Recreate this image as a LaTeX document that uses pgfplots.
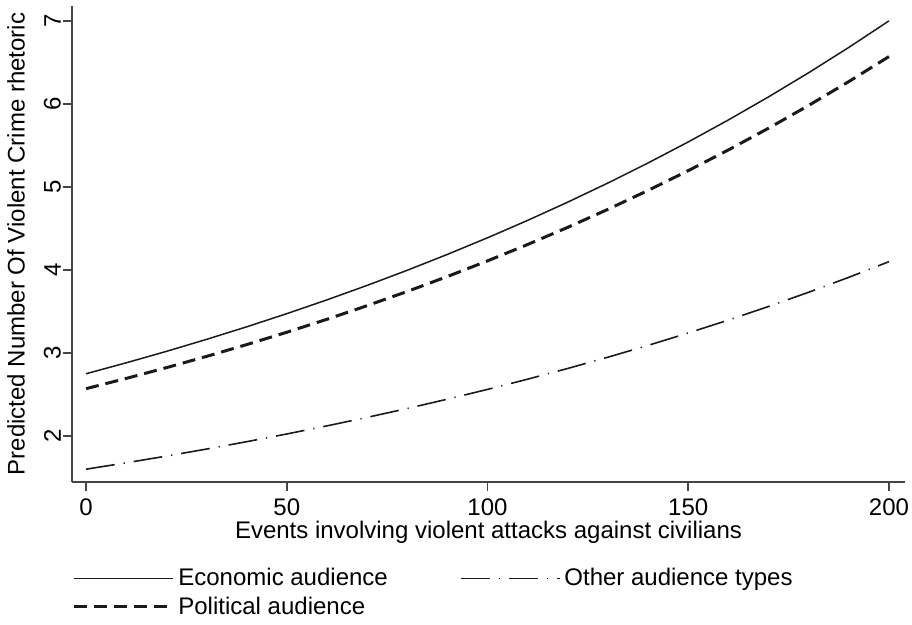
\documentclass[border=0pt]{standalone}
\usepackage{fontspec}
\setmainfont{Liberation Sans}
\usepackage{pgfplots}
\pgfplotsset{compat=1.18}
\definecolor{ink}{HTML}{1A1A1A}
\definecolor{axisgray}{HTML}{444444}
\begin{document}
\begin{tikzpicture}
\path[use as bounding box] (-36pt,-71.5pt) rectangle (420pt,241pt);
\begin{axis}[
  anchor=south west, at={(0,0)},
  scale only axis, width=416.5pt, height=238pt,
  xmin=-3.5, xmax=204, ymin=1.446, ymax=7.18,
  axis x line=bottom, axis y line=left,
  axis line style={-, draw=axisgray, line width=0.8pt},
  xtick={0,50,100,150,200}, ytick={2,3,4,5,6,7},
  tick align=outside, major tick length=4.5pt,
  tick style={draw=axisgray, line width=0.8pt},
  font=\fontsize{12}{14}\selectfont,
  /pgf/number format/assume math mode=true,
  yticklabel style={rotate=90, anchor=south, yshift=-2.5pt},
  xticklabel style={anchor=north, yshift=-0.5pt},
  xlabel={Events involving violent attacks against civilians},
  ylabel={Predicted Number Of Violent Crime rhetoric},
  xlabel style={at={(axis description cs:0.5,0)}, anchor=north, yshift=-16pt},
  ylabel style={at={(axis description cs:0,0.5)}, anchor=south, rotate=0, yshift=20pt},
  legend columns=2,
  legend cell align=left,
  legend style={at={(axis description cs:0,0)}, anchor=north west, yshift=-41pt,
    draw=none, fill=none, inner sep=0pt, row sep=0pt,
    font=\fontsize{12}{14}\selectfont,
    /tikz/every even column/.append style={column sep=34pt}},
  legend image code/.code={\path (0pt,0pt) -- (49.5pt,0pt);\draw[#1] (0pt,0pt) -- (44pt,0pt);},
]
\addplot[ink, line width=0.75pt] coordinates {
(0,2.750) (10,2.8815) (20,3.0193) (30,3.1637) (40,3.3150) (50,3.4736) (60,3.6397) (70,3.8138) (80,3.9962) (90,4.1873) (100,4.3876) (110,4.5974) (120,4.8173) (130,5.0477) (140,5.2891) (150,5.5421) (160,5.8071) (170,6.0849) (180,6.3759) (190,6.6809) (200,7.0004)};
\addlegendentry{Economic audience}
\addplot[ink, line width=0.8pt, dash pattern=on 14.5pt off 4.5pt on 0.6pt off 4.5pt] coordinates {
(0,1.600) (10,1.6771) (20,1.7579) (30,1.8425) (40,1.9313) (50,2.0243) (60,2.1218) (70,2.2240) (80,2.3312) (90,2.4435) (100,2.5612) (110,2.6845) (120,2.8138) (130,2.9494) (140,3.0915) (150,3.2404) (160,3.3965) (170,3.5601) (180,3.7316) (190,3.9114) (200,4.0998)};
\addlegendentry{Other audience types}
\addplot[ink, line width=1.5pt, dash pattern=on 6.5pt off 3.5pt] coordinates {
(0,2.570) (10,2.6935) (20,2.8229) (30,2.9586) (40,3.1007) (50,3.2497) (60,3.4059) (70,3.5696) (80,3.7411) (90,3.9209) (100,4.1093) (110,4.3068) (120,4.5137) (130,4.7306) (140,4.9580) (150,5.1962) (160,5.4459) (170,5.7076) (180,5.9819) (190,6.2693) (200,6.5706)};
\addlegendentry{Political audience}
\end{axis}
\end{tikzpicture}
\end{document}
